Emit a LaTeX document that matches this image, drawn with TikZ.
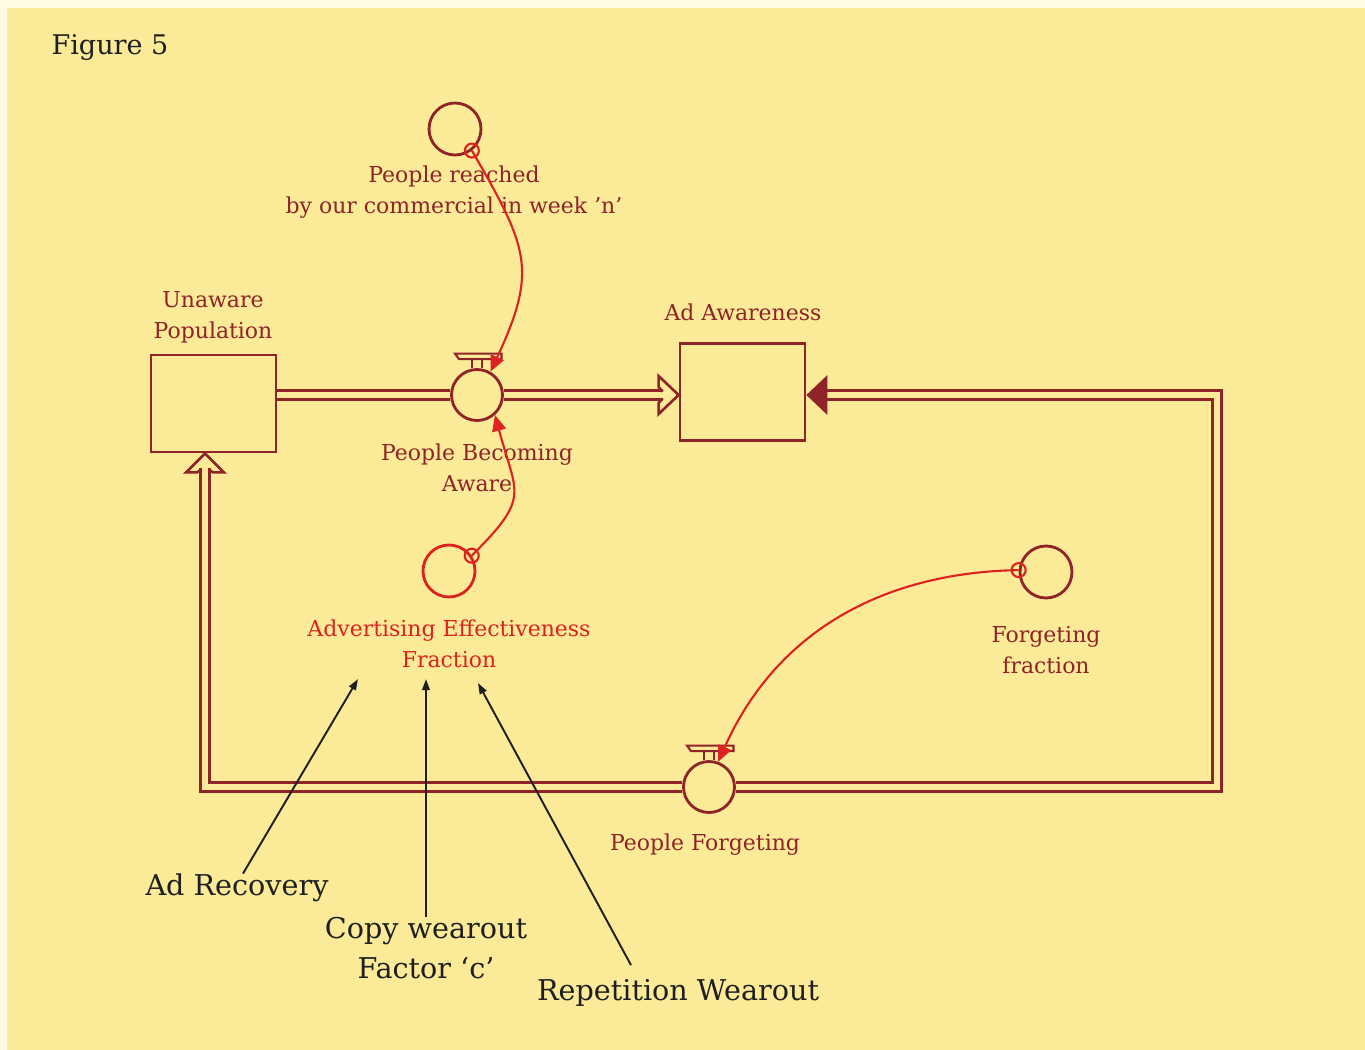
\documentclass[tikz,border=0pt]{standalone}
\usepackage{fontspec}
\setmainfont{DejaVu Serif}
\usetikzlibrary{arrows.meta}
\usepackage{xcolor}
\definecolor{maroon}{HTML}{8E2428}
\definecolor{linkred}{HTML}{DC2320}
\definecolor{paper}{HTML}{FBEA98}
\definecolor{margin}{HTML}{FFFBE3}

\begin{document}
\begin{tikzpicture}[
    x=0.02cm, y=-0.02cm,
    stock/.style={
        draw=maroon,
        line width=1.6pt,
        fill=paper,
        minimum width=2.5cm,
        minimum height=1.94cm,
    },
    valve/.style={circle, draw=maroon, line width=1.6pt, fill=paper, minimum size=1.02cm, inner sep=0pt},
    aux/.style={circle, draw=maroon, line width=1.6pt, minimum size=1.04cm, inner sep=0pt},
    pipe/.style={draw=maroon, line width=1.5pt, double=paper, double distance=3.4pt},
    head/.style={draw=maroon, line width=1.5pt, line join=miter},
    tap/.style={draw=linkred, line width=1.2pt},
    link/.style={draw=linkred, line width=1.2pt, -{Triangle[length=0.32cm, width=0.28cm]}},
    varname/.style={text=maroon, font=\fontsize{12.5}{17.6}\selectfont, align=center, inner sep=0pt},
    remark/.style={text=black!88, font=\fontsize{16.3}{22.7}\selectfont, align=center, inner sep=0pt},
    pointer/.style={draw=black!88, line width=1.1pt, -{Triangle[length=0.22cm, width=0.15cm]}},
]

\fill[margin] (0,0) rectangle (1365,1050);
\fill[paper] (7,8) rectangle (1365,1050);
\useasboundingbox (0,0) rectangle (1365,1050);

\node[remark, font=\fontsize{15.4}{18}\selectfont] (FIG) at (110,48) {Figure 5};

% stocks, valves and auxiliaries
\node[stock] (UP) at (213.5,403.5) {};
\node[stock] (AA) at (742.5,392) {};
\node[valve] (PBA) at (477,395) {};
\node[valve] (PF) at (709,787) {};
\node[aux] (PR) at (455,129) {};
\node[aux, draw=linkred] (AEF) at (449,571) {};
\node[aux] (FF) at (1046,572) {};

\node[varname] (UPl) at (213,317) {Unaware\\Population};
\node[varname] (AAl) at (743,312) {Ad Awareness};
\node[varname] (PBAl) at (477,468) {People Becoming\\Aware};
\node[varname] (PFl) at (705,845) {People Forgeting};
\node[varname] (PRl) at (454,192) {People reached\\by our commercial in week 'n'};
\node[varname, text=linkred] (AEFl) at (449,644) {Advertising Effectiveness\\Fraction};
\node[varname] (FFl) at (1046,650) {Forgeting\\fraction};

% flows
\coordinate (NE) at (1217,395);
\coordinate (UPin) at (205,468);
\draw[pipe] (PBA.west -| UP.east) -- (PBA.west);
\draw[pipe] (PBA.east) -- ([xshift=-0.32cm]PBA.east -| AA.west);
\draw[head] (PBA.east -| AA.west) ++(-16,-3.4) -- ++(-4,-4.6) -- ++(0,-11) -- (PBA.east -| AA.west)
    -- ++(-20,19) -- ++(0,-11) -- ++(4,-4.6);
\draw[pipe] ([xshift=0.34cm]PBA.east -| AA.east) -- (NE) |- (PF.east);
\fill[maroon] (PBA.east -| AA.east) -- ++(21,-20) -- ++(0,40) -- cycle;
\draw[pipe] (PF.west) -| (UPin);
\draw[head] (UPin |- UP.south) ++(-3.4,16) -- ++(-4.6,3) -- ++(-11,0) -- (UPin |- UP.south)
    -- ++(19,19) -- ++(-11,0) -- ++(-4.6,-3);

% valve taps
\draw[maroon, line width=1.2pt] (PBA.north) ++(-5,0) -- ++(0,-9) (PBA.north) ++(5,0) -- ++(0,-9);
\draw[maroon, line width=1.2pt, fill=paper] (PBA.north) ++(-18,-9) -- ++(-4,-5.5) -- ++(46.5,0) -- ++(0,5.5) -- cycle;
\draw[maroon, line width=1.2pt] (PF.north) ++(-5,0) -- ++(0,-9) (PF.north) ++(5,0) -- ++(0,-9);
\draw[maroon, line width=1.2pt, fill=paper] (PF.north) ++(-18,-9) -- ++(-4,-5.5) -- ++(46.5,0) -- ++(0,5.5) -- cycle;

% information links
\draw[tap] (PR.-52) circle (0.14cm);
\draw[link] (PR.-52) to[out=-60, in=65, looseness=1.3] (PBA.60);
\draw[tap] (AEF.34) circle (0.14cm);
\draw[link] (AEF.34) to[out=45, in=-75, looseness=1.5] (PBA.-48);
\draw[tap] (FF.176) circle (0.14cm);
\draw[link] (FF.176) to[out=181, in=66] (PF.70);

% annotations
\node[remark] (AR) at (237,888) {Ad Recovery};
\node[remark] (CW) at (426,948) {Copy wearout\\Factor `c'};
\node[remark] (RW) at (678,993) {Repetition Wearout};
\coordinate (t1) at (358,679);
\coordinate (t2) at (426,679);
\coordinate (t3) at (478,683);
\draw[pointer] ([xshift=0.12cm]AR.north) -- (t1);
\draw[pointer] (CW.north) -- (t2);
\draw[pointer] ([xshift=-0.94cm, yshift=0.28cm]RW.north) -- (t3);

\end{tikzpicture}
\end{document}
